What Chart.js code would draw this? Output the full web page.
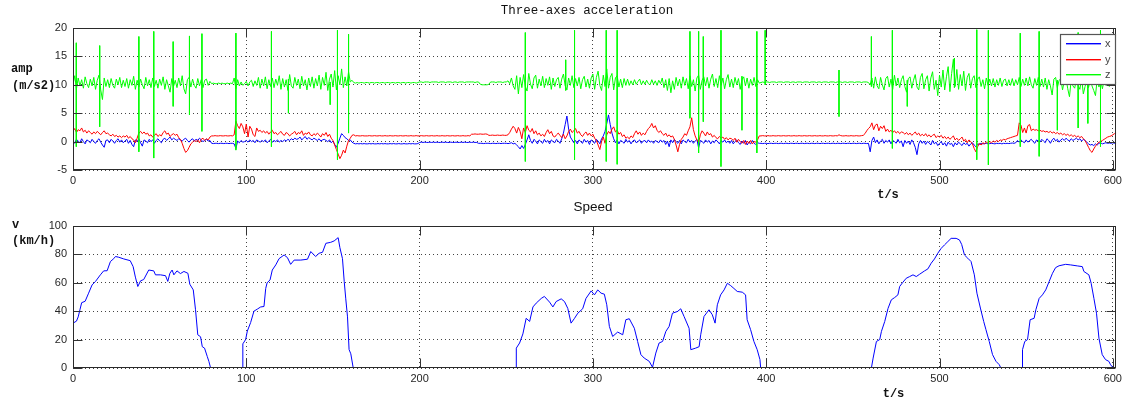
<!DOCTYPE html>
<html><head><meta charset="utf-8">
<script src="https://cdn.jsdelivr.net/npm/chart.js@4"></script>
<style>
html,body{margin:0;padding:0;background:#fff;width:1126px;height:405px;overflow:hidden}
canvas{position:absolute;left:0;top:0}
</style></head><body>
<canvas id="c1" width="1126" height="405"></canvas>
<canvas id="c2" width="1126" height="405"></canvas>
<script>
// ---------- DATA ----------
// three-axes acceleration, one sample per second (t = index, s)
const accX = [
0.2,-0.3,0.4,0.1,-0.2,0.5,0.0,-0.4,0.3,0.1,
-0.2,0.4,0.0,-0.3,0.2,0.5,-0.1,-0.6,-1.0,0.2,
0.3,-0.2,0.4,0.1,-0.3,0.2,0.5,-0.1,0.3,-0.2,
0.1,0.4,-0.3,0.2,-0.5,-0.9,0.3,0.0,0.5,-0.2,
-0.8,0.3,0.1,-0.2,0.4,0.0,0.3,-0.3,0.2,0.5,
0.1,-0.2,0.4,0.6,0.2,0.5,0.8,0.3,0.6,0.4,
0.2,0.5,0.3,0.1,0.4,0.6,0.2,-0.1,0.3,0.5,
0.1,0.4,0.2,0.6,0.3,0.0,0.2,0.4,0.1,0.2,
-0.3,-0.35,-0.3,-0.3,-0.35,-0.3,-0.3,-0.35,-0.3,-0.3,
-0.35,-0.3,-0.3,-0.4,-1.2,0.1,-0.2,0.2,-0.1,0.0,
0.2,-0.1,0.3,0.0,0.2,-0.2,0.3,0.1,-0.1,0.2,
0.0,0.3,-0.2,0.1,0.4,-0.1,0.2,0.0,0.3,-0.1,
0.2,0.0,0.3,0.1,0.4,0.2,0.5,0.3,0.6,0.4,
0.5,0.8,0.3,0.6,0.9,0.4,0.7,0.5,0.3,0.6,
0.4,0.2,0.5,0.1,0.3,0.4,0.2,0.0,0.3,-0.2,
0.1,-0.5,-1.0,-0.3,0.6,1.4,1.1,0.7,0.5,0.2,
0.3,-0.1,-0.3,-0.4,-0.35,-0.4,-0.35,-0.4,-0.35,-0.4,
-0.4,-0.35,-0.4,-0.35,-0.4,-0.4,-0.35,-0.4,-0.35,-0.4,
-0.35,-0.4,-0.4,-0.35,-0.4,-0.35,-0.4,-0.4,-0.35,-0.4,
-0.4,-0.35,-0.4,-0.4,-0.35,-0.4,-0.35,-0.4,-0.4,-0.35,
-0.15,-0.1,-0.15,-0.1,-0.15,-0.15,-0.1,-0.15,-0.1,-0.15,
-0.1,-0.15,-0.15,-0.1,-0.15,-0.1,-0.15,-0.15,-0.1,-0.15,
-0.15,-0.1,-0.15,-0.15,-0.1,-0.15,-0.1,-0.15,-0.15,-0.1,
-0.15,-0.1,-0.15,-0.15,-0.3,-0.3,-0.3,-0.35,-0.3,-0.3,
-0.3,-0.35,-0.3,-0.3,-0.35,-0.3,-0.3,-0.35,-0.3,-0.3,
-0.3,-0.35,-0.3,-0.2,-0.4,-0.3,-0.6,-0.9,-1.3,-0.7,
-1.2,-0.5,0.3,1.2,0.2,-0.3,0.4,0.1,-0.4,0.3,
0.0,-0.3,0.4,-0.1,0.2,-0.4,0.3,0.0,-0.2,0.4,
0.1,-0.3,0.5,1.5,3.0,4.5,2.2,0.8,0.3,-0.2,
0.2,-0.4,0.3,0.0,-0.3,0.4,-0.1,0.2,-0.5,0.3,
0.0,-0.3,0.4,0.1,-0.4,0.5,1.0,1.8,3.2,4.7,
3.0,1.5,0.5,-0.2,0.3,-0.4,0.2,0.0,-0.3,0.4,
-0.1,0.2,-0.4,0.1,0.3,-0.2,0.0,0.3,-0.3,0.1,
0.2,-0.2,0.3,-0.1,0.1,-0.3,0.2,0.0,-0.2,0.3,
-0.1,0.2,-0.5,0.1,-0.9,0.3,-0.2,0.4,0.0,-0.3,
0.2,-0.4,0.3,0.0,-0.2,0.4,-0.1,0.2,-0.3,0.1,
0.4,-1.1,0.2,0.0,-0.3,0.3,-0.1,0.2,-0.4,0.1,
-0.2,0.3,0.0,-0.4,0.2,-0.1,0.3,-0.2,0.1,-0.3,
0.2,-0.4,0.0,0.3,-0.2,-0.5,0.1,-0.3,0.2,-0.6,
-0.1,-0.4,0.2,-0.3,-0.5,-0.2,-0.3,-0.3,-0.35,-0.3,
-0.3,-0.35,-0.3,-0.3,-0.35,-0.3,-0.3,-0.35,-0.3,-0.3,
-0.35,-0.3,-0.3,-0.35,-0.3,-0.3,-0.35,-0.3,-0.3,-0.35,
-0.3,-0.3,-0.35,-0.3,-0.3,-0.35,-0.3,-0.3,-0.35,-0.3,
-0.3,-0.35,-0.3,-0.3,-0.35,-0.3,-0.3,-0.35,-0.3,-0.3,
-0.35,-0.3,-0.3,-0.35,-0.3,-0.3,-0.35,-0.3,-0.3,-0.35,
-0.3,-0.3,-0.35,-0.3,-0.3,-0.35,-0.3,-0.3,-0.35,-0.3,
-1.8,0.2,0.8,-0.2,0.3,-0.4,0.1,0.4,-0.3,0.2,
-0.1,0.3,-0.4,0.2,0.0,-0.3,0.4,-0.2,0.1,-0.9,
0.2,-0.3,0.1,-0.5,0.3,-0.2,-1.0,-2.3,-0.4,0.2,
-0.3,0.1,-0.5,0.0,-0.2,-0.6,0.2,-0.4,-0.1,-0.7,
-0.3,0.0,-0.6,-0.2,-0.8,-0.1,-0.5,-0.3,-0.9,-0.2,
-0.6,-0.1,-0.4,-0.7,-0.2,-0.5,-0.3,-0.8,-0.4,-0.2,
-0.6,-0.9,-0.4,-0.5,-0.3,-0.4,-0.35,-0.3,-0.4,-0.35,
-0.3,-0.35,-0.4,-0.3,-0.35,-0.3,-0.4,-0.3,-0.35,-0.3,
-0.35,-0.3,-0.25,-0.3,-0.2,0.2,-0.1,0.3,0.0,-0.2,
0.3,-0.1,0.2,0.4,0.0,-0.3,0.3,0.1,-0.1,0.4,
0.1,-0.2,0.5,0.2,-0.3,0.3,0.6,0.1,0.4,-0.1,
0.3,0.5,0.2,0.6,0.3,0.1,0.5,0.2,0.4,0.6,
0.3,0.5,0.1,0.4,0.2,-0.1,-0.4,-0.6,-0.5,-0.7,
-0.4,-0.6,-0.3,-0.2,-0.4,-0.3,-0.2,-0.3,-0.25,-0.3,
-0.2,-0.3,-0.25
];
const accY = [
1.8,2.3,1.6,2.1,1.9,2.4,1.7,2.0,1.5,1.9,
1.6,1.3,1.7,1.4,1.8,1.5,1.2,1.6,1.9,1.4,
1.5,1.2,1.0,1.3,0.9,1.1,0.8,1.0,0.7,1.0,
0.8,1.1,0.6,0.9,0.5,0.3,-0.2,0.6,1.5,1.8,
1.4,1.7,1.3,1.5,1.0,1.2,0.8,1.1,1.4,0.9,
1.2,1.0,1.6,1.9,1.3,1.5,0.9,1.2,1.4,1.1,
1.3,0.7,0.4,-0.3,-1.2,-1.9,-1.6,-1.0,-0.4,-0.1,
0.2,0.0,0.3,-0.2,0.4,0.6,0.2,0.5,0.3,0.8,
1.0,1.0,1.05,1.0,1.0,1.05,1.0,1.0,1.05,1.0,
1.0,1.05,1.0,1.2,3.6,2.8,2.3,3.2,2.6,1.4,
3.1,0.8,2.7,2.2,1.2,0.9,2.4,1.8,2.0,1.6,
1.9,1.5,1.8,1.3,1.7,2.0,1.4,1.6,1.2,1.5,
1.8,1.3,1.1,1.6,1.4,1.0,1.3,1.5,1.8,1.2,
1.6,1.4,1.9,1.1,1.5,1.3,1.7,1.2,1.0,1.4,
1.1,1.5,1.2,0.8,1.4,1.1,1.6,0.9,1.3,0.6,
0.2,-0.6,-1.4,-2.2,-3.0,-2.4,-1.5,-2.0,-0.8,0.2,
0.6,1.1,1.2,1.0,1.05,1.0,1.0,1.05,1.0,1.0,
1.0,1.05,1.0,1.0,1.05,1.0,1.0,1.05,1.0,1.0,
1.05,1.0,1.0,1.05,1.0,1.0,1.05,1.0,1.0,1.05,
1.0,1.0,1.05,1.0,1.0,1.05,1.0,1.0,1.05,1.0,
1.0,1.05,1.0,1.0,1.05,1.0,1.0,1.05,1.0,1.0,
1.05,1.0,1.0,1.05,1.0,1.0,1.05,1.0,1.0,1.05,
1.0,1.0,1.05,1.0,1.0,1.05,1.0,1.0,1.05,1.0,
1.3,1.3,1.35,1.3,1.3,1.35,1.3,1.3,1.35,1.3,
1.1,1.1,1.15,1.1,1.1,1.15,1.1,1.1,1.15,1.1,
1.1,1.2,1.6,2.2,2.7,2.3,1.5,2.5,1.8,0.5,
2.4,1.6,2.8,2.0,1.7,2.3,1.4,1.9,1.2,1.5,
1.0,1.3,0.9,1.6,2.1,1.4,1.8,1.0,0.8,1.2,
1.5,1.1,0.7,1.3,0.5,1.0,1.8,2.2,1.6,1.9,
2.3,1.5,1.8,1.2,0.9,1.4,1.7,1.1,1.5,1.0,
1.3,0.6,0.2,-0.6,-1.4,0.0,0.8,-0.3,1.2,1.8,
1.4,2.2,2.6,1.7,2.0,1.3,1.6,0.9,1.2,0.6,
0.8,0.5,1.0,0.7,1.4,1.9,1.3,1.7,1.1,1.5,
1.2,1.8,2.3,2.6,3.2,2.4,2.8,2.0,1.6,1.9,
1.4,1.1,1.5,0.9,1.2,0.8,1.0,0.4,-0.6,-1.8,
-0.5,0.4,0.8,1.4,1.1,1.9,2.6,4.2,2.1,1.0,
0.3,-0.2,1.2,1.9,1.5,1.0,1.7,1.2,1.4,0.8,
1.1,0.7,0.5,0.9,0.6,0.8,0.4,0.7,0.3,0.6,
0.5,0.2,0.6,-0.1,0.4,0.0,-0.3,0.2,-0.5,0.1,
-0.3,0.2,-0.4,0.0,-0.1,0.3,1.0,1.0,1.05,1.0,
1.0,1.05,1.0,1.0,1.05,1.0,1.0,1.05,1.0,1.0,
1.05,1.0,1.0,1.05,1.0,1.0,1.05,1.0,1.0,1.05,
1.0,1.0,1.05,1.0,1.0,1.05,1.0,1.0,1.05,1.0,
1.0,1.05,1.0,1.0,1.05,1.0,1.0,1.05,1.0,1.0,
1.05,1.0,1.2,1.05,1.0,1.0,1.05,1.0,1.0,1.05,
1.0,1.0,1.05,1.0,1.0,1.05,1.1,1.4,1.9,2.3,
2.6,3.3,2.1,2.9,3.1,1.9,2.7,2.3,2.8,1.8,
2.2,1.7,2.0,1.6,1.9,1.5,1.8,1.4,1.7,1.6,
1.3,1.6,1.2,1.5,1.1,1.4,1.7,1.2,1.5,1.0,
1.3,1.0,1.4,0.9,1.2,0.8,1.1,1.3,0.7,1.0,
0.8,1.1,0.6,0.9,0.5,0.8,0.4,0.7,1.0,0.3,
0.6,0.2,0.5,0.8,0.1,0.4,-0.2,0.3,0.0,-0.4,
-1.2,-1.8,-0.9,-0.3,-0.6,-0.2,-0.4,-0.1,-0.3,0.0,
-0.2,0.1,-0.1,0.2,0.0,0.3,0.2,0.4,0.3,0.5,
0.6,0.7,0.8,0.9,1.0,1.1,3.3,2.9,1.6,2.4,
1.5,2.8,3.0,1.9,2.2,2.0,2.1,1.9,2.0,1.8,
1.9,1.7,1.8,1.6,1.8,1.5,1.7,1.4,1.6,1.3,
1.5,1.2,1.4,1.1,1.3,1.0,1.2,0.9,1.1,0.8,
1.0,0.7,0.9,0.5,0.2,-0.4,-1.0,-1.6,-1.9,-1.3,
-0.8,-0.4,-0.1,0.0,0.2,0.4,0.6,0.8,0.9,1.0,
1.2,1.4,1.5
];
const accZ = [
10.0,11.6,9.3,11.2,9.8,10.9,9.4,11.4,10.2,9.5,
11.0,9.8,11.3,9.2,10.8,11.7,9.1,7.4,11.2,9.7,
10.9,9.5,11.1,9.9,9.4,11.0,10.0,11.3,9.5,10.8,
9.7,11.1,9.4,10.9,9.9,11.5,9.2,10.8,9.6,11.0,
10.0,9.3,11.3,9.8,10.9,9.5,11.2,9.7,10.8,9.4,
11.0,9.9,11.4,9.2,10.9,9.8,8.7,11.1,9.7,10.8,
9.5,11.2,9.8,11.6,9.3,8.4,10.9,11.3,9.6,11.0,
9.9,9.4,11.1,9.8,10.9,9.5,10.8,11.0,9.9,10.6,
10.2,10.3,10.2,10.2,10.3,10.2,10.3,10.2,10.2,10.3,
10.2,10.3,10.2,11.2,9.3,10.9,9.8,10.5,9.9,10.2,
10.6,9.8,10.5,10.8,9.7,10.7,9.9,11.3,9.4,11.0,
9.8,11.4,9.3,10.9,9.7,11.2,9.5,11.0,9.9,11.6,
9.2,11.1,9.6,10.9,9.0,11.8,9.8,9.4,11.3,9.9,
11.0,9.3,11.5,9.8,10.9,9.1,11.2,9.7,11.4,9.4,
11.1,9.8,11.7,9.2,11.3,9.9,12.2,9.0,11.0,11.9,
9.6,12.5,9.1,11.6,10.0,12.8,9.5,11.4,9.8,12.3,
10.5,10.8,10.4,10.3,10.4,10.3,10.4,10.4,10.3,10.4,
10.4,10.3,10.4,10.4,10.3,10.4,10.4,10.3,10.4,10.4,
10.3,10.4,10.4,10.3,10.4,10.4,10.3,10.4,10.4,10.3,
10.4,10.4,10.3,10.4,10.4,10.3,10.4,10.4,10.3,10.4,
10.5,10.5,10.4,10.5,10.5,10.5,10.4,10.5,10.5,10.5,
10.5,10.4,10.5,10.5,10.5,10.4,10.5,10.5,10.5,10.4,
10.5,10.5,10.4,10.5,10.5,10.5,10.4,10.5,10.5,10.5,
10.5,10.5,10.4,10.5,10.5,10.1,10.0,10.0,10.0,10.0,
10.1,10.5,10.5,10.5,10.4,10.5,10.5,10.5,10.4,10.5,
10.5,10.7,10.2,11.2,9.8,9.2,11.6,8.4,11.3,9.5,
11.8,9.7,8.9,12.0,10.1,9.3,11.2,11.7,9.4,11.0,
9.8,11.5,9.5,11.1,9.9,11.4,9.2,11.2,9.7,10.9,
11.3,9.4,11.0,11.9,9.8,9.1,11.2,9.9,11.6,9.5,
11.1,9.8,11.3,9.3,10.9,11.5,9.6,11.0,9.4,11.2,
11.9,9.2,11.3,12.4,9.9,9.0,11.7,9.7,12.8,9.4,
11.3,12.0,9.1,11.2,11.6,9.6,11.0,9.5,11.1,9.9,
11.0,9.9,10.7,10.0,10.9,10.1,10.6,11.0,10.0,10.7,
10.1,10.8,10.2,10.0,10.9,10.1,10.7,9.9,10.8,10.2,
11.2,9.5,10.9,9.0,11.1,8.6,10.7,9.2,11.3,9.8,
11.0,9.4,11.4,9.9,11.1,9.3,11.6,9.7,10.9,8.9,
11.2,11.7,9.2,10.8,11.4,9.8,11.3,9.4,11.0,11.9,
9.7,11.1,9.5,11.6,9.9,11.2,9.3,10.9,11.8,9.6,
11.0,9.5,11.3,10.0,11.1,9.2,10.9,11.4,9.8,11.2,
9.4,11.0,9.9,11.3,9.7,10.9,10.3,10.4,10.5,10.4,
10.5,10.5,10.4,10.5,10.5,10.5,10.4,10.5,10.5,10.5,
10.4,10.5,10.5,10.5,10.4,10.5,10.5,10.4,10.5,10.5,
10.5,10.4,10.5,10.5,10.5,10.4,10.5,10.5,10.5,10.4,
10.5,10.5,10.4,10.5,10.5,10.5,10.4,10.5,10.5,10.5,
10.4,10.5,10.5,10.5,10.4,10.5,10.5,10.4,10.5,10.5,
10.5,10.4,10.5,10.5,10.5,10.4,10.5,10.5,10.5,10.4,
10.0,11.2,9.4,11.4,9.8,9.3,11.3,10.0,9.1,11.1,
11.5,9.6,11.0,9.2,11.7,9.8,11.2,9.5,10.9,11.6,
9.7,8.7,11.1,11.4,9.4,10.8,11.8,9.6,9.1,11.3,
12.0,9.3,10.9,11.6,8.9,11.2,12.3,9.2,10.8,8.1,
11.7,9.6,12.6,9.1,11.4,13.2,8.8,12.0,14.5,9.7,
12.7,9.2,11.8,9.8,12.4,9.0,11.3,12.0,9.4,11.1,
11.6,9.5,11.0,11.4,9.7,10.9,9.3,11.2,9.9,11.0,
9.8,11.1,9.6,10.9,9.9,11.2,9.7,10.8,11.0,9.8,
10.9,9.9,11.1,9.8,10.9,10.0,11.3,9.7,11.0,9.9,
11.2,9.8,11.4,10.0,9.4,11.1,9.9,11.3,9.7,11.0,
9.6,11.2,9.2,10.9,9.8,8.2,11.0,11.3,9.5,10.8,
11.1,9.1,10.7,11.2,9.3,7.9,10.9,9.8,9.4,11.0,
9.9,9.2,11.2,8.4,9.7,10.9,9.5,11.1,9.8,9.0,
8.1,11.0,9.6,10.8,9.3,10.9,9.9,11.0,9.7,10.8,
10.3,10.5,10.4
];
// short impulses in z: time (s), upper and lower extreme (m/s2)
const spikeT  = [1.9,15.4,38,46.6,57.8,67.2,74.4,94,114.5,124.3,148.4,152.6,159,261,284.3,289.4,307.7,314,356,361,363.7,373.9,386,394.6,399.4,442,460.7,472.8,481.4,508.6,521.5,528.2,546.6,557.5,568,580,585.6,592.9];
const spikeHi = [17.4,16.9,18.5,19.4,17.6,18.6,19.0,19.1,19.4,11.0,10.5,19.6,18.9,19.2,14.4,19.6,19.6,19.6,19.4,19.4,18.5,19.6,11.5,19.4,19.6,12.6,18.5,19.6,10.8,14.7,19.7,19.6,19.1,19.4,10.8,19.2,10.8,19.6];
const spikeLo = [-0.9,2.6,-1.8,-2.9,6.2,4.7,1.8,-1.5,-0.9,5.0,6.5,-3.2,1.5,-3.5,9.0,-3.2,-3.5,-4.0,4.1,-2.0,3.5,-4.4,2.0,-2.0,10.0,4.4,9.7,-1.2,6.2,9.5,-3.2,-4.1,-0.9,-2.6,2.0,2.4,3.2,-0.9];

// speed (km/h) at time (s)
const speedT = [0,2,3,4,5,7,9,11,13,15.8,17.7,19.7,21.6,23.5,24.5,26.4,29.3,33,34.7,36,37.4,39,40.8,43.7,46.6,47.6,50.5,53.4,54.7,55.9,57.2,58.2,60,62,64,66.3,67.4,69.4,70.7,72,73.6,74.6,75.9,77.5,78.4,79.4,
97.9,98,99.6,100.6,102.5,104.4,106.4,108.3,110.2,111.2,112,113.7,115,117,118.9,121.8,123.7,125.6,127.6,131.4,135.3,137.2,140,142,144,145.9,148.7,150.7,153,154,155.5,156.5,157.4,158.4,159.3,160.3,161.7,
255.7,255.8,257.7,259.6,261.5,263.5,265.4,267.3,270.2,272,275,276.9,278.8,281.7,283.6,285.5,287.4,289.4,291.3,294.1,296,299,300.9,302.8,304.7,306.6,308,309.5,311.4,314.3,317.2,319,321,323.9,325.8,327.7,329.6,332.5,334.4,336.3,338.2,340.2,342.1,344,345.9,348.8,350.7,352.6,355.5,356.5,359.3,361.3,362.2,364.1,367,368.9,370.5,371.8,373.7,375.7,377.6,379.5,381.4,383.3,386.2,388.1,389,391,392.9,394.8,396.4,396.8,
460.7,461.7,463.6,465.5,466.5,468.4,470.3,472.2,474.1,476,477,478.9,480.8,482.8,484.7,486.6,488.5,491.4,493.3,495.2,497.1,499,501,502.9,504.8,506.7,509.6,511.5,512.8,514.4,516.3,518.2,520.1,521.6,523.6,525.5,526.8,528.7,530.6,532.6,534.5,535.4,
547.8,547.9,549.2,550.8,552.3,554.6,555.6,557.5,559.4,561.3,563.3,565.2,567,569,572.8,575.7,579.5,582.4,583.3,586.2,587.5,589.1,590.6,592,593.9,595.8,597.7,598.7,600];
const speedV = [31.6,33,36,41,46,47,52.7,58.5,61,65.6,68.4,68.5,75,77,78.5,78,76.8,75.6,71.4,64,57.4,61.4,62.3,69,68.4,65.6,65.6,65,61,66.7,69,65.6,68.4,66.5,68,66.7,59,55,41,23.4,22,15,14,8,4.7,0,
0,17,20,26,32,40,41.5,43,43.3,56,60,62,69,72.6,77,79.6,77.8,73,76,76,76.6,82,78.5,80.8,81.5,87.8,88.5,89.5,91.8,84.8,77,61,48.7,36,13,10,0,
0,14,17.6,24,35,32.8,43,45.7,49,50.4,46.4,43,46.8,48.7,46.8,42,31.6,35,38.6,41.7,49,54.3,51.5,55,52.7,52,44.5,29.3,22.2,25.3,23.4,34,34.7,28,18.7,9.4,7,4.7,0.5,10.5,17.6,18.7,25.8,29.3,38.6,39.8,41.7,36.3,28,12.9,14,15,23.4,36.3,41,37.5,31.6,44.5,51.5,55,59.7,58,56,53.9,53.4,51.5,34,27,18.7,12.9,5.9,0,
0,7,18.7,20,25.8,32.8,42,48,49.6,51.5,57.4,60.4,63.2,64.4,65.6,64.4,66,68.4,69.8,73.8,76.8,80.8,84.3,86.7,89,91.3,91.3,90.2,87,79.6,77.3,75,65.6,52.7,42.2,32.8,27,18.7,9.4,4.7,2.3,0,
0,12.9,18.7,20,34,35,41,49,51.5,55,61,66.7,70.7,72,73,72.6,71.9,71.4,68,65.6,59.7,49,38.6,21,9.4,5.9,4.7,2.3,0.5];

const seriesNames = ['x','y','z'];
const seriesColors = ['#0000ff','#ff0000','#00ff00'];
const xTicks = [0,100,200,300,400,500,600];
const yTicksTop = [-5,0,5,10,15,20];
const yTicksBottom = [0,20,40,60,80,100];

// ---------- helpers ----------
const toXY = arr => arr.map((v,i)=>({x:i,y:v}));
const spikePts = [];
spikeT.forEach((t,i)=>{ spikePts.push({x:t,y:spikeHi[i]},{x:t,y:spikeLo[i]},{x:t,y:null}); });
const speedPts = speedT.map((t,i)=>({x:t,y:speedV[i]}));

const tickFont = {family:'"Liberation Sans", Arial, sans-serif', size:11};
const INK = '#262626';

function xScale(){
  return {
    type:'linear', min:0, max:602,
    afterBuildTicks(s){ s.ticks = xTicks.map(v=>({value:v})); },
    ticks:{font:tickFont, color:INK, padding:4, maxRotation:0, autoSkip:false},
    grid:{color:'#444', drawTicks:false, lineWidth:1},
    border:{display:false, dash:[1,3]},
    afterFit(s){ s.height = 20; }
  };
}
function yScale(min,max,list){
  return {
    type:'linear', min, max,
    afterBuildTicks(s){ s.ticks = list.map(v=>({value:v})); },
    ticks:{font:tickFont, color:INK, padding:6, autoSkip:false},
    grid:{color:'#444', drawTicks:false, lineWidth:1},
    border:{display:false, dash:[1,3]},
    afterFit(s){ s.width = 73; }
  };
}

function decor(o){
  return {
    id:'decor',
    afterDraw(chart){
      const {ctx, chartArea:a, scales} = chart;
      ctx.save();
      ctx.setLineDash([]);
      const L=Math.round(a.left)+0.5, R=Math.round(a.right)-0.5, T=Math.round(a.top)+0.5, B=Math.round(a.bottom)-0.5;
      ctx.strokeStyle='#333'; ctx.lineWidth=1;
      ctx.beginPath();
      scales.x.ticks.forEach(tk=>{
        const px=Math.round(scales.x.getPixelForValue(tk.value))+0.5;
        ctx.moveTo(px,B); ctx.lineTo(px,B-9);
        ctx.moveTo(px,T); ctx.lineTo(px,T+9);
      });
      scales.y.ticks.forEach(tk=>{
        const py=Math.round(scales.y.getPixelForValue(tk.value))+0.5;
        ctx.moveTo(L,py); ctx.lineTo(L+9,py);
        ctx.moveTo(R,py); ctx.lineTo(R-9,py);
      });
      ctx.stroke();
      ctx.strokeStyle='#2a2a2a';
      ctx.strokeRect(L,T,R-L,B-T);

      // texts
      ctx.fillStyle='#111';
      ctx.textBaseline='middle';
      if(o.title){
        ctx.font=o.titleFont; ctx.textAlign='center';
        ctx.fillText(o.title, o.titleX, o.titleY);
      }
      ctx.font='bold 12px "Liberation Mono", "DejaVu Sans Mono", monospace';
      ctx.textAlign='left';
      o.ylab.forEach(l=>ctx.fillText(l.t, l.x, l.y));
      ctx.textAlign='center';
      ctx.fillText('t/s', o.xlabX, o.xlabY);

      if(o.legend){
        const bx=1060.5, by=34.5, bw=55, bh=50;
        ctx.fillStyle='#fff'; ctx.fillRect(bx,by,bw,bh);
        ctx.strokeStyle='#555'; ctx.lineWidth=1.2; ctx.strokeRect(bx,by,bw,bh);
        const rows=[43,59,74];
        ctx.font='11px "Liberation Sans", Arial, sans-serif';
        ctx.textAlign='left';
        seriesNames.forEach((name,i)=>{
          ctx.fillStyle=seriesColors[i];
          ctx.fillRect(1066,rows[i],35,1.4);
          ctx.fillStyle='#444';
          ctx.fillText(name, 1105, rows[i]+0.5);
        });
      }
      ctx.restore();
    }
  };
}

const lineDs = (label,data,color,order)=>({label,data,borderColor:color,backgroundColor:color,borderWidth:1,pointRadius:0,tension:0,order,spanGaps:false});

new Chart(document.getElementById('c1'),{
  type:'line',
  data:{datasets:[
    lineDs(seriesNames[0], toXY(accX), seriesColors[0], 2),
    lineDs(seriesNames[1], toXY(accY), seriesColors[1], 1),
    lineDs(seriesNames[2], toXY(accZ), seriesColors[2], 0),
    lineDs('z-impulses', spikePts, seriesColors[2], 0)
  ]},
  options:{
    responsive:false, devicePixelRatio:1, animation:false, events:[],
    layout:{padding:{left:0,right:6,top:28,bottom:215}},
    plugins:{legend:{display:false}, tooltip:{enabled:false}},
    scales:{x:xScale(), y:yScale(-5,20,yTicksTop)}
  },
  plugins:[decor({
    title:'Three-axes acceleration', titleFont:'12.5px "Liberation Mono", "DejaVu Sans Mono", monospace', titleX:587, titleY:11,
    ylab:[{t:'amp',x:11,y:69},{t:'(m/s2)',x:12,y:85.5}],
    xlabX:888, xlabY:194.5, legend:true
  })]
});

new Chart(document.getElementById('c2'),{
  type:'line',
  data:{datasets:[ lineDs('v', speedPts, '#0000ff', 0) ]},
  options:{
    responsive:false, devicePixelRatio:1, animation:false, events:[],
    layout:{padding:{left:0,right:6,top:226,bottom:17}},
    plugins:{legend:{display:false}, tooltip:{enabled:false}},
    scales:{x:xScale(), y:yScale(0,100,yTicksBottom)}
  },
  plugins:[decor({
    title:'Speed', titleFont:'13.5px "Liberation Sans", Arial, sans-serif', titleX:593, titleY:207,
    ylab:[{t:'v',x:12,y:224.5},{t:'(km/h)',x:12,y:240.5}],
    xlabX:893.5, xlabY:393.5, legend:false
  })]
});
</script>
</body></html>
